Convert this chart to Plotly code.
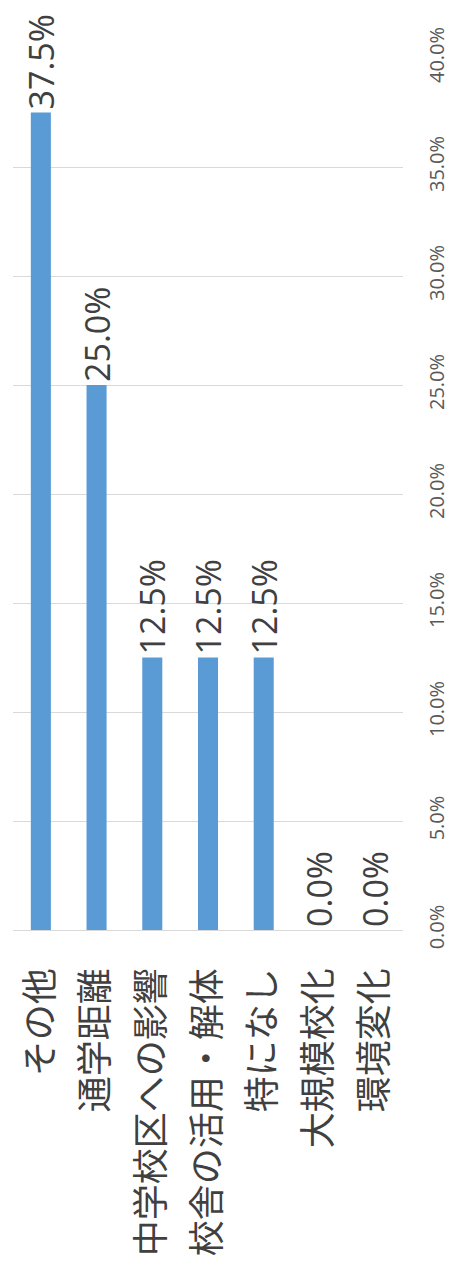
import plotly.graph_objects as go

categories = ["その他", "通学距離", "中学校区への影響", "校舎の活用・解体", "特になし", "大規模校化", "環境変化"]
values = [0.375, 0.25, 0.125, 0.125, 0.125, 0.0, 0.0]
label_texts = [f"{v*100:.1f}%" for v in values]
y_ticks = [0, 0.05, 0.10, 0.15, 0.20, 0.25, 0.30, 0.35, 0.40]
y_tick_labels = [f"{t*100:.1f}%" for t in y_ticks]

fig = go.Figure()
fig.add_trace(go.Bar(
    x=categories,
    y=values,
    marker=dict(color="#5B9BD5", line=dict(width=0)),
    text=label_texts,
    textposition="outside",
    textangle=-90,
    constraintext="none",
    textfont=dict(family="Open Sans, sans-serif", size=34, color="#404040"),
    cliponaxis=False,
))

fig.update_layout(
    width=451,
    height=1267,
    margin=dict(l=13, r=48, t=58, b=337),
    paper_bgcolor="white",
    plot_bgcolor="white",
    bargap=0.64,
    showlegend=False,
    xaxis=dict(
        type="category",
        tickangle=-90,
        tickfont=dict(family="Noto Sans CJK JP, sans-serif", size=36, color="#404040"),
        showgrid=False,
        showline=False,
        ticks="",
        ticklabelstandoff=30,
        automargin=False,
    ),
    yaxis=dict(
        range=[0, 0.4],
        side="right",
        tickvals=y_ticks,
        ticktext=y_tick_labels,
        tickangle=-90,
        tickfont=dict(family="Open Sans, sans-serif", size=20, color="#595959"),
        showgrid=True,
        gridcolor="#d9d9d9",
        gridwidth=1,
        zeroline=True,
        zerolinecolor="#d9d9d9",
        zerolinewidth=1,
        showline=False,
        ticks="outside",
        ticklen=16,
        tickcolor="rgba(0,0,0,0)",
        automargin=False,
    ),
)

fig.write_html("out.html")
